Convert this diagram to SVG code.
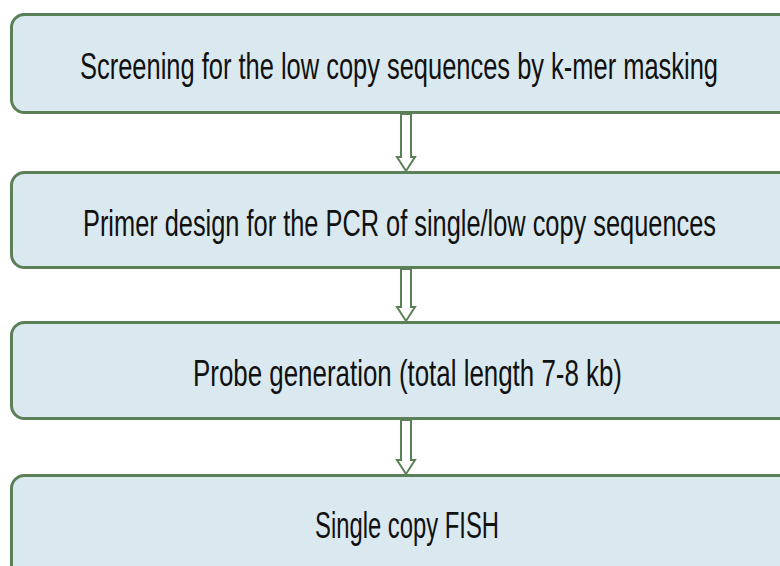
<svg xmlns="http://www.w3.org/2000/svg" width="780" height="566" viewBox="0 0 780 566">
<style>
.box{fill:#DAE9EF;stroke:#5B7F57;stroke-width:3}
.lbl{font-family:"Liberation Sans",Arial,sans-serif;font-size:24.5px;fill:#111;text-anchor:start}
.arr{fill:#FFFFFF;stroke:#5B7F57;stroke-width:2;stroke-linejoin:miter}
</style>
<rect width="780" height="566" fill="#FFFFFF"/>
<g id="connectors">
<polygon class="arr" points="401,114 411,114 411,157 415,157 406,171 397,157 401,157"/>
<polygon class="arr" points="401,269 411,269 411,307 415,307 406,321 397,307 401,307"/>
<polygon class="arr" points="401,420 411,420 411,460 415,460 406,474 397,460 401,460"/>
</g>
<g id="node1">
<rect class="box" x="11.5" y="14.5" width="800" height="98" rx="13"/>
<text class="lbl" transform="translate(80,79) scale(1,1.5)" x="0" y="0" textLength="638" lengthAdjust="spacingAndGlyphs">Screening for the low copy sequences by k-mer masking</text>
</g>
<g id="node2">
<rect class="box" x="11.5" y="172.5" width="800" height="95" rx="13"/>
<text class="lbl" transform="translate(83,236) scale(1,1.5)" x="0" y="0" textLength="633" lengthAdjust="spacingAndGlyphs">Primer design for the PCR of single/low copy sequences</text>
</g>
<g id="node3">
<rect class="box" x="11.5" y="322.5" width="800" height="96" rx="13"/>
<text class="lbl" transform="translate(193,386) scale(1,1.5)" x="0" y="0" textLength="429" lengthAdjust="spacingAndGlyphs">Probe generation (total length 7-8 kb)</text>
</g>
<g id="node4">
<rect class="box" x="11.5" y="475.5" width="800" height="120" rx="13"/>
<text class="lbl" transform="translate(315,538) scale(1,1.5)" x="0" y="0" textLength="184" lengthAdjust="spacingAndGlyphs">Single copy FISH</text>
</g>
</svg>
